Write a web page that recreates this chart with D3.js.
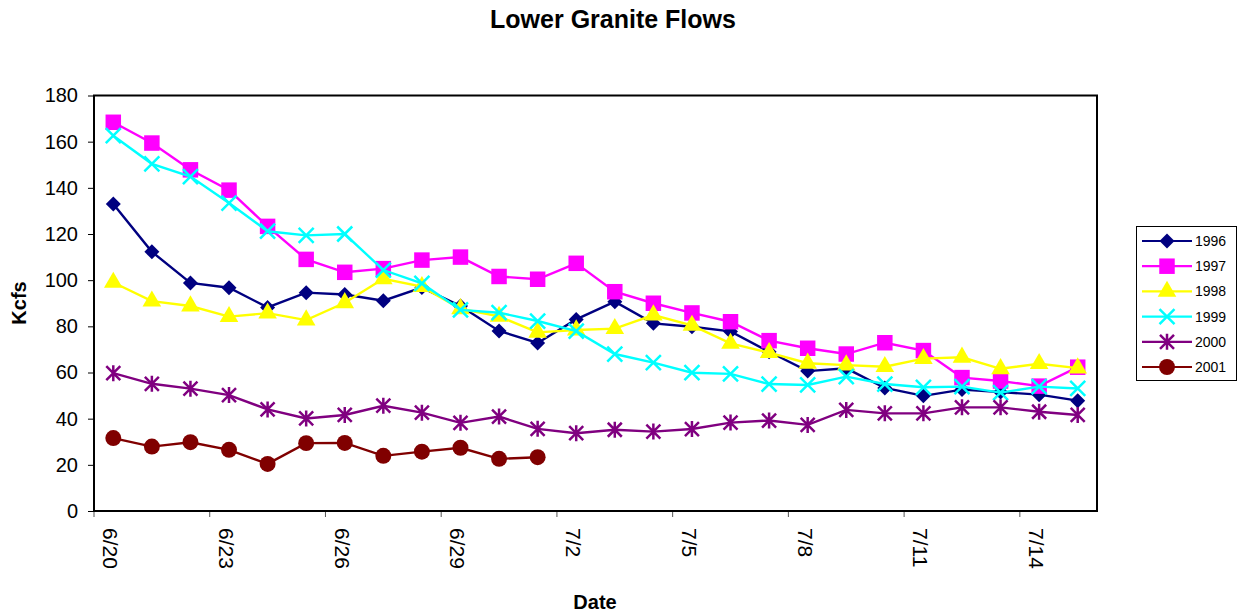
<!DOCTYPE html>
<html>
<head>
<meta charset="utf-8">
<script src="https://cdn.jsdelivr.net/npm/d3@7"></script>
<style>
  body { margin: 0; background: #fff; }
  text { font-family: Arial, "Liberation Sans", sans-serif; }
</style>
</head>
<body>
<svg id="chart" width="1238" height="614"></svg>
<script>
const dates = ["6/20","6/21","6/22","6/23","6/24","6/25","6/26","6/27","6/28","6/29","6/30","7/1","7/2",
  "7/3","7/4","7/5","7/6","7/7","7/8","7/9","7/10","7/11","7/12","7/13","7/14","7/15"];
const tickDates = ["6/20","6/23","6/26","6/29","7/2","7/5","7/8","7/11","7/14"];
const yTicks = [0, 20, 40, 60, 80, 100, 120, 140, 160, 180];

const flows1996 = [133, 112.3, 98.8, 96.7, 88.2, 94.6, 93.8, 91.1, 96.8, 88.8, 78, 72.8, 83, 90.7, 81.3, 79.8, 77.8, 69, 60.6, 61.8, 53.3, 49.9, 52.6, 51.5, 50.4, 47.8];
const flows1997 = [168.4, 159.4, 147.8, 139, 123.3, 109, 103.4, 105, 108.7, 110, 101.6, 100.4, 107.3, 95, 90, 85.8, 82, 73.8, 70.5, 68, 72.9, 69.5, 57.8, 56.3, 54.1, 62.3];
const flows1998 = [99, 90.9, 88.8, 84.2, 85.7, 82.7, 90.2, 100.6, 97.2, 87.6, 84.3, 77.4, 78.4, 79, 84.9, 80.4, 72.6, 68.6, 64, 63.2, 62.5, 66, 66.6, 61.6, 63.8, 61.9];
const flows1999 = [162.6, 150.4, 144.9, 133.4, 121.2, 119.4, 120, 104.4, 98.6, 87.1, 85.9, 82.3, 77.9, 68, 64.3, 59.9, 59.4, 55, 54.6, 58.2, 55, 53.6, 53.9, 51.3, 53.9, 53.1];
const flows2000 = [59.7, 55.1, 53, 50.2, 44, 40.1, 41.6, 45.6, 42.6, 38.2, 40.9, 35.6, 33.7, 35.2, 34.4, 35.5, 38.3, 39.2, 37.3, 43.8, 42.3, 42.3, 44.9, 44.9, 43, 41.6];
const flows2001 = [31.6, 27.9, 29.8, 26.5, 20.4, 29.4, 29.5, 23.9, 25.7, 27.4, 22.6, 23.3];

const series = [
  { name: "1996", values: flows1996, color: "#000080", marker: "diamond" },
  { name: "1997", values: flows1997, color: "#FF00FF", marker: "square" },
  { name: "1998", values: flows1998, color: "#FFFF00", marker: "triangle" },
  { name: "1999", values: flows1999, color: "#00FFFF", marker: "cross" },
  { name: "2000", values: flows2000, color: "#800080", marker: "star" },
  { name: "2001", values: flows2001, color: "#800000", marker: "circle" }
];

const svg = d3.select("#chart");
const margin = { left: 94, right: 1097, top: 95.5, bottom: 511 };

const x = d3.scaleBand()
  .domain(dates)
  .range([margin.left, margin.right]);

const y = d3.scaleLinear()
  .domain([0, 180])
  .range([margin.bottom, margin.top]);

// title and axis titles
svg.append("text")
  .attr("x", 613).attr("y", 28)
  .attr("text-anchor", "middle")
  .attr("font-size", "25px").attr("font-weight", "bold")
  .text("Lower Granite Flows");

svg.append("text")
  .attr("transform", "translate(26, 303) rotate(-90)")
  .attr("text-anchor", "middle")
  .attr("font-size", "20px").attr("font-weight", "bold")
  .text("Kcfs");

svg.append("text")
  .attr("x", 595).attr("y", 609)
  .attr("text-anchor", "middle")
  .attr("font-size", "20px").attr("font-weight", "bold")
  .text("Date");

// y axis
const yAxis = d3.axisLeft(y).tickValues(yTicks).tickSize(6).tickPadding(10);
svg.append("g")
  .attr("transform", `translate(${margin.left},0)`)
  .call(yAxis)
  .call(g => g.select(".domain").remove())
  .call(g => g.selectAll("line").attr("stroke", "#000"))
  .call(g => g.selectAll("text").attr("font-size", "20px").attr("fill", "#000")
    .attr("font-family", "Arial, 'Liberation Sans', sans-serif"));

// x axis ticks at band boundaries
const xg = svg.append("g");
xg.selectAll("line")
  .data(tickDates)
  .join("line")
  .attr("x1", d => x(d)).attr("x2", d => x(d))
  .attr("y1", margin.bottom).attr("y2", margin.bottom + 6)
  .attr("stroke", "#555").attr("stroke-width", 1);

xg.selectAll("text")
  .data(tickDates)
  .join("text")
  .attr("transform", d => `translate(${x(d) + x.bandwidth() / 2 - 10}, ${margin.bottom + 17}) rotate(90)`)
  .attr("font-size", "21px")
  .attr("fill", "#000")
  .text(d => d);

// plot frame
svg.append("rect")
  .attr("x", margin.left).attr("y", margin.top)
  .attr("width", margin.right - margin.left)
  .attr("height", margin.bottom - margin.top)
  .attr("fill", "none").attr("stroke", "#000").attr("stroke-width", 2);

const symbolType = {
  square: d3.symbolSquare,
  triangle: d3.symbolTriangle,
  circle: d3.symbolCircle
};
const symbolSize = { square: 240, triangle: 150, circle: 200 };

function drawMarker(g, s, cx, cy) {
  if (s.marker === "cross") {
    const r = 7.5;
    g.append("path")
      .attr("d", `M${cx - r},${cy - r}L${cx + r},${cy + r}M${cx - r},${cy + r}L${cx + r},${cy - r}`)
      .attr("stroke", s.color).attr("stroke-width", 2.5).attr("fill", "none");
  } else if (s.marker === "star") {
    const r = 7;
    g.append("path")
      .attr("d", `M${cx - r},${cy - r}L${cx + r},${cy + r}M${cx - r},${cy + r}L${cx + r},${cy - r}M${cx},${cy - r - 1}L${cx},${cy + r + 1}`)
      .attr("stroke", s.color).attr("stroke-width", 2.5).attr("fill", "none");
  } else if (s.marker === "diamond") {
    const r = 7.5;
    g.append("path")
      .attr("d", `M${cx},${cy - r}L${cx + r},${cy}L${cx},${cy + r}L${cx - r},${cy}Z`)
      .attr("fill", s.color);
  } else {
    g.append("path")
      .attr("transform", `translate(${cx},${cy})`)
      .attr("d", d3.symbol().type(symbolType[s.marker]).size(symbolSize[s.marker])())
      .attr("fill", s.color);
  }
}

const line = d3.line()
  .x((d, i) => x(dates[i]) + x.bandwidth() / 2)
  .y(d => y(d));

series.forEach(s => {
  const g = svg.append("g");
  g.append("path")
    .datum(s.values)
    .attr("d", line)
    .attr("fill", "none")
    .attr("stroke", s.color)
    .attr("stroke-width", 2.4);
  s.values.forEach((v, i) => {
    drawMarker(g, s, x(dates[i]) + x.bandwidth() / 2, y(v));
  });
});

// legend
const legend = svg.append("g");
legend.append("rect")
  .attr("x", 1136.5).attr("y", 226.5)
  .attr("width", 100).attr("height", 154)
  .attr("fill", "#fff").attr("stroke", "#000").attr("stroke-width", 1);

series.forEach((s, i) => {
  const ly = 241 + i * 25.2;
  legend.append("line")
    .attr("x1", 1142).attr("x2", 1192)
    .attr("y1", ly).attr("y2", ly)
    .attr("stroke", s.color).attr("stroke-width", 2.2);
  drawMarker(legend, s, 1167, ly);
  legend.append("text")
    .attr("x", 1195).attr("y", ly + 5)
    .attr("font-size", "14px")
    .text(s.name);
});
</script>
</body>
</html>
